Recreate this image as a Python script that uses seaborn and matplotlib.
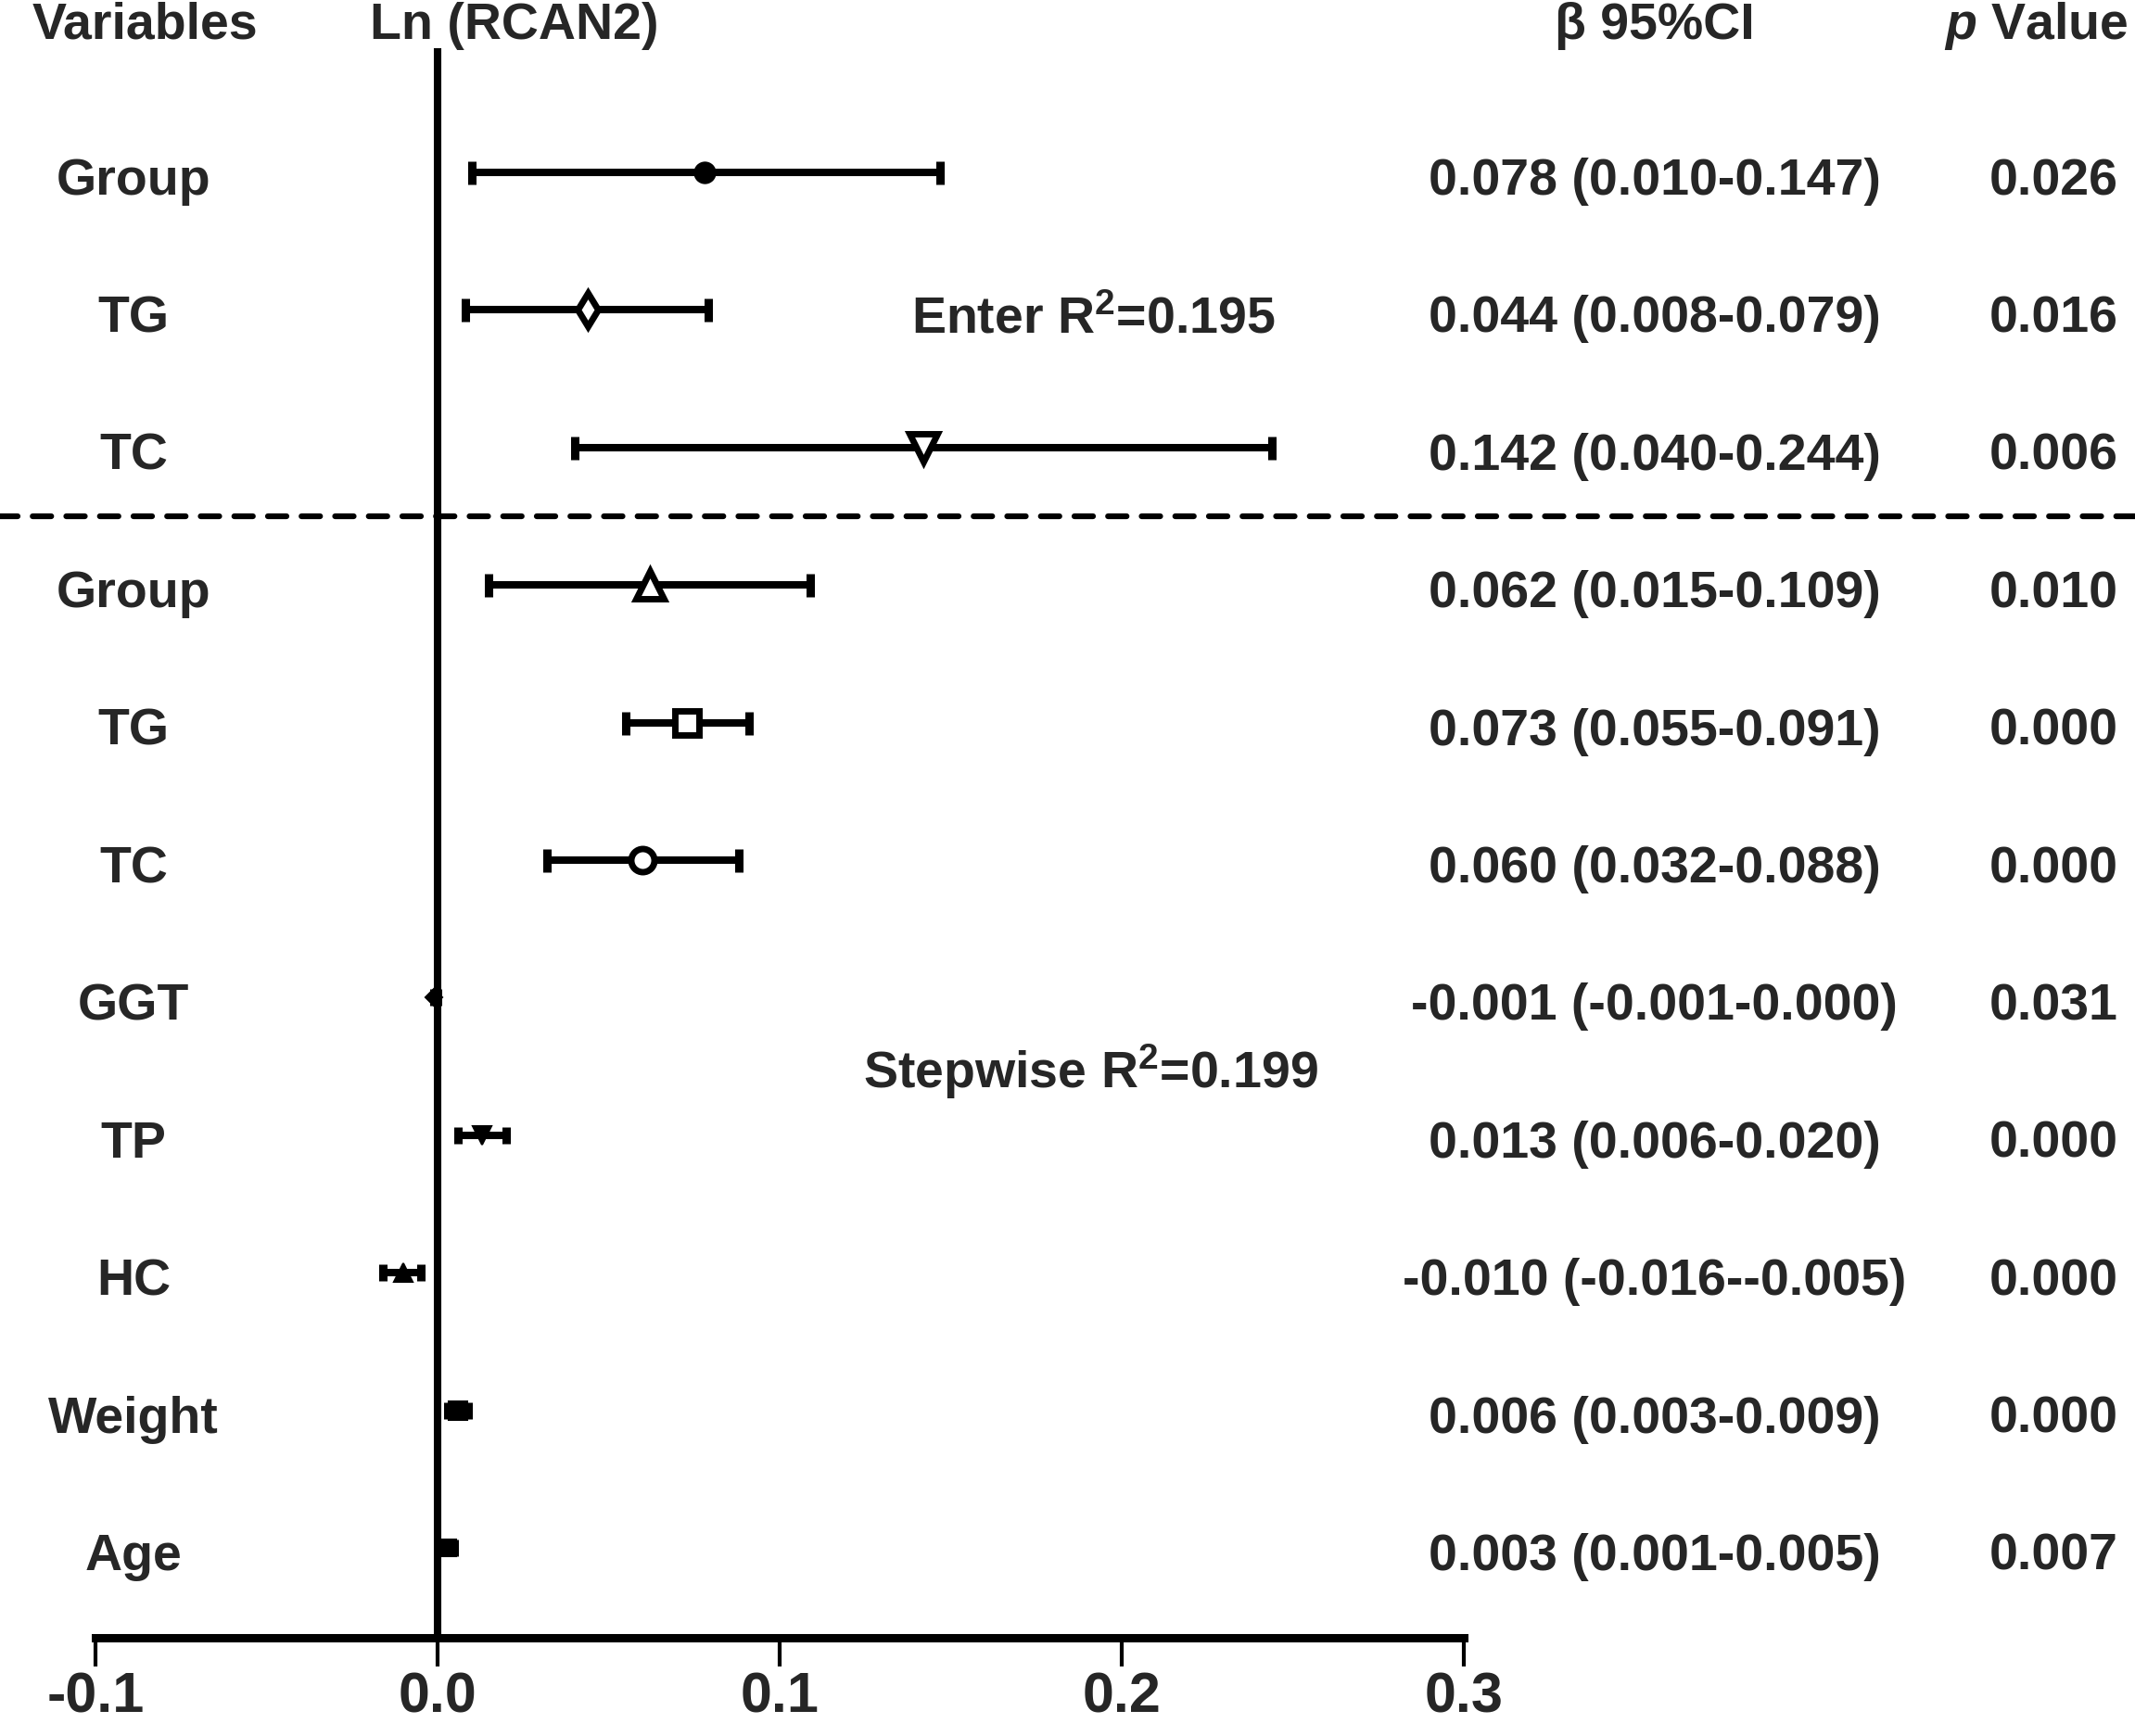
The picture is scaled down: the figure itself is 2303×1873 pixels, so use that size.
import matplotlib
matplotlib.use("Agg")
import matplotlib.pyplot as plt
import matplotlib.transforms as mtransforms
import seaborn as sns
import numpy as np

# ---------------- data ----------------
variables = ["Group", "TG", "TC", "Group", "TG", "TC", "GGT", "TP", "HC", "Weight", "Age"]
beta = [0.078, 0.044, 0.142, 0.062, 0.073, 0.060, -0.001, 0.013, -0.010, 0.006, 0.003]
ci_low = [0.010, 0.008, 0.040, 0.015, 0.055, 0.032, -0.001, 0.006, -0.016, 0.003, 0.001]
ci_high = [0.147, 0.079, 0.244, 0.109, 0.091, 0.088, 0.000, 0.020, -0.005, 0.009, 0.005]
beta_text = ["0.078 (0.010-0.147)", "0.044 (0.008-0.079)", "0.142 (0.040-0.244)",
             "0.062 (0.015-0.109)", "0.073 (0.055-0.091)", "0.060 (0.032-0.088)",
             "-0.001 (-0.001-0.000)", "0.013 (0.006-0.020)", "-0.010 (-0.016--0.005)",
             "0.006 (0.003-0.009)", "0.003 (0.001-0.005)"]
p_text = ["0.026", "0.016", "0.006", "0.010", "0.000", "0.000",
          "0.031", "0.000", "0.000", "0.000", "0.007"]
x_ticks = [-0.1, 0.0, 0.1, 0.2, 0.3]
x_ticklabels = ["-0.1", "0.0", "0.1", "0.2", "0.3"]
headers = ["Variables", "Ln (RCAN2)", "\u03b2 95%CI", "$\\mathit{p}$ Value"]
model_labels = ["Enter R$^{2}$=0.195", "Stepwise R$^{2}$=0.199"]

# ---------------- styles ----------------
markers = ["o", "d", "v", "^", "s", "o", "D", "v", "^", "s", "s"]
filled = [True, False, False, False, False, False, True, True, True, True, True]
msizes = [16, 18, 21, 21, 19, 18, 9.5, 14, 14, 14, 13]
capsizes = [9, 9, 9, 9, 9, 9, 6.5, 6.5, 6.5, 6.5, 6.5]

sns.set_theme(style="white")
plt.rcParams["font.family"] = ["Liberation Sans", "DejaVu Sans"]
plt.rcParams["font.weight"] = "bold"
plt.rcParams["mathtext.fontset"] = "custom"
plt.rcParams["mathtext.rm"] = "Liberation Sans:bold"
plt.rcParams["mathtext.it"] = "Liberation Sans:bold:italic"
plt.rcParams["mathtext.bf"] = "Liberation Sans:bold"
plt.rcParams["mathtext.default"] = "rm"

W, H = 2303, 1873
fig = plt.figure(figsize=(W / 100, H / 100), dpi=100)
left, right = 103 / W, 1579 / W
bottom, top = 1 - 1767 / H, 1 - 52 / H
ax = fig.add_axes([left, bottom, right - left, top - bottom])

ypos = np.arange(len(variables))
lw = 5.8
for i in range(len(variables)):
    ax.errorbar(beta[i], ypos[i],
                xerr=[[beta[i] - ci_low[i]], [ci_high[i] - beta[i]]],
                fmt="none", ecolor="black", elinewidth=lw, capsize=capsizes[i],
                capthick=6.5, zorder=3)
    ax.plot(beta[i], ypos[i], marker=markers[i], markersize=msizes[i],
            markerfacecolor="black" if filled[i] else "white",
            markeredgecolor="black", markeredgewidth=1.5 if filled[i] else 5,
            linestyle="none", zorder=4)

ax.axvline(0, color="black", linewidth=5.8, zorder=2)
ax.axhline(2.5, xmin=-0.075, xmax=1.5, color="black", linewidth=4.5,
           linestyle=(0, (3.2, 2.6)), dash_capstyle="round", clip_on=False, zorder=2)

ax.set_xlim(-0.1, 0.3)
ax.set_ylim(10.654, -0.903)
ax.set_xticks(x_ticks)
ax.set_xticklabels(x_ticklabels, fontsize=44, fontweight="bold")
ax.set_yticks([])
ax.tick_params(axis="x", bottom=True, direction="out", length=22, width=3,
               color="black", pad=4)
sns.despine(ax=ax, left=True, top=True, right=True)
ax.spines["bottom"].set_linewidth(6.5)
ax.spines["bottom"].set_color("black")
ax.set_facecolor("none")

trans = mtransforms.blended_transform_factory(fig.transFigure, ax.transData)
fs = 40
dy = 0.162
for i in range(len(variables)):
    ax.text(0.0625, ypos[i] + dy, variables[i], transform=trans, ha="center",
            va="baseline", fontsize=fs, fontweight="bold")
    ax.text(0.775, ypos[i] + dy, beta_text[i], transform=trans, ha="center",
            va="baseline", fontsize=fs, fontweight="bold")
    ax.text(0.9618, ypos[i] + dy, p_text[i], transform=trans, ha="center",
            va="baseline", fontsize=fs, fontweight="bold")

hy = 1 - 42 / H
fig.text(0.068, hy, headers[0], ha="center", va="baseline", fontsize=fs, fontweight="bold")
fig.text(0.241, hy, headers[1], ha="center", va="baseline", fontsize=fs, fontweight="bold")
fig.text(0.775, hy, headers[2], ha="center", va="baseline", fontsize=fs, fontweight="bold")
fig.text(2296 / W, hy, headers[3], ha="right", va="baseline", fontsize=fs, fontweight="bold")

ax.text(0.512, 1.17, model_labels[0], transform=trans, ha="center", va="baseline",
        fontsize=fs, fontweight="bold")
ax.text(0.511, 6.66, model_labels[1], transform=trans, ha="center", va="baseline",
        fontsize=fs, fontweight="bold")

fig.savefig("out.png", dpi=100, facecolor="white")
